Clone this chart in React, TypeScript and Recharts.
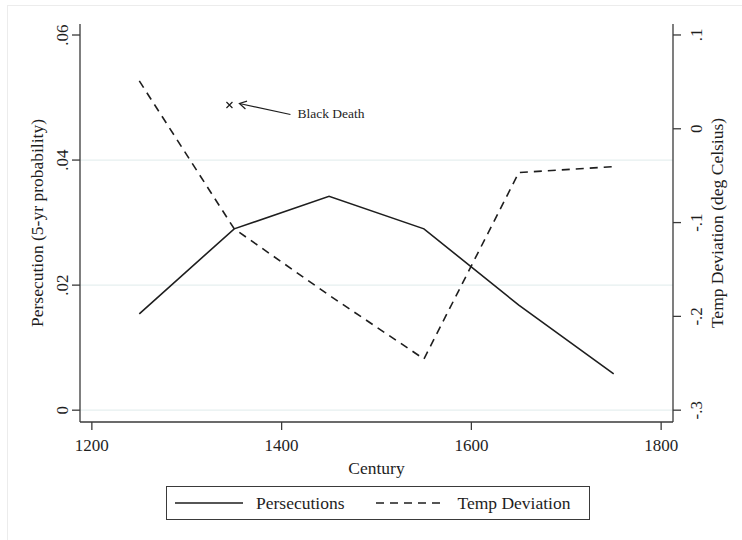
import {
  ComposedChart,
  Line,
  XAxis,
  YAxis,
  ReferenceLine,
  ReferenceDot,
} from "recharts";

// century midpoints and the two series
const centuries = [1250, 1350, 1450, 1550, 1650, 1750];
const persecutions = [0.0154, 0.029, 0.0342, 0.029, 0.0168, 0.0058];
const tempDeviation = [0.051, -0.1066, -0.1774, -0.2454, -0.0467, -0.0403];

const xTicks = [1200, 1400, 1600, 1800];
const leftTicks = [0, 0.02, 0.04, 0.06];
const rightTicks = [-0.3, -0.2, -0.1, 0, 0.1];
const gridLevels = [0, 0.02, 0.04];

const seriesNames = ["Persecutions", "Temp Deviation"];
const blackDeath = { year: 1345, value: 0.0488, label: "Black Death" };

const data = centuries.map((c, i) => ({
  century: c,
  persecutions: persecutions[i],
  temp: tempDeviation[i],
}));

const FONT = "'Liberation Serif', 'DejaVu Serif', serif";
const AXIS = "#3a3a3a";
const INK = "#1e1e1e";

// stata-style numbers: .04, -.2
const fmt = (v: number) => String(v).replace("0.", ".");

const LeftTick = ({ x, y, payload }: any) => {
  const cx = x - 9;
  return (
    <text
      x={cx}
      y={y}
      transform={`rotate(-90 ${cx} ${y})`}
      textAnchor="middle"
      dominantBaseline="central"
      fontFamily={FONT}
      fontSize={17}
      fill={INK}
    >
      {fmt(payload.value)}
    </text>
  );
};

const RightTick = ({ x, y, payload }: any) => {
  const cx = x + 16;
  return (
    <text
      x={cx}
      y={y}
      transform={`rotate(-90 ${cx} ${y})`}
      textAnchor="middle"
      dominantBaseline="central"
      fontFamily={FONT}
      fontSize={17}
      fill={INK}
    >
      {fmt(payload.value)}
    </text>
  );
};

const leftTitle = ({ viewBox }: any) => {
  const cx = viewBox.x + viewBox.width - 43;
  const cy = viewBox.y + viewBox.height / 2;
  return (
    <text
      x={cx}
      y={cy}
      transform={`rotate(-90 ${cx} ${cy})`}
      textAnchor="middle"
      dominantBaseline="central"
      fontFamily={FONT}
      fontSize={17.5}
      fill={INK}
    >
      Persecution (5-yr probability)
    </text>
  );
};

const rightTitle = ({ viewBox }: any) => {
  const cx = viewBox.x + 44;
  const cy = viewBox.y + viewBox.height / 2;
  return (
    <text
      x={cx}
      y={cy}
      transform={`rotate(-90 ${cx} ${cy})`}
      textAnchor="middle"
      dominantBaseline="central"
      fontFamily={FONT}
      fontSize={17.5}
      fill={INK}
    >
      Temp Deviation (deg Celsius)
    </text>
  );
};

const xTitle = ({ viewBox }: any) => (
  <text
    x={viewBox.x + viewBox.width / 2}
    y={viewBox.y + 46}
    textAnchor="middle"
    dominantBaseline="central"
    fontFamily={FONT}
    fontSize={17.5}
    fill={INK}
  >
    Century
  </text>
);

// x marker with an arrow pointing back at it and the caption
const BlackDeathMark = ({ cx, cy }: any) => {
  const tipX = cx + 10;
  const tipY = cy - 1.5;
  return (
    <g stroke={INK} strokeWidth={1.2} fill="none">
      <path d={`M${cx - 3},${cy - 3}L${cx + 3},${cy + 3}M${cx - 3},${cy + 3}L${cx + 3},${cy - 3}`} />
      <line x1={cx + 61} y1={cy + 9.5} x2={tipX} y2={tipY} />
      <path d={`M${tipX + 6},${tipY + 5.4}L${tipX},${tipY}L${tipX + 7.6},${tipY - 2.4}`} />
      <text
        x={cx + 68}
        y={cy + 8}
        stroke="none"
        fill={INK}
        fontFamily={FONT}
        fontSize={13.5}
        dominantBaseline="central"
      >
        {blackDeath.label}
      </text>
    </g>
  );
};

const LegendBox = () => (
  <div
    style={{
      position: "absolute",
      left: 166,
      top: 486,
      width: 424,
      height: 34,
      border: `1.5px solid ${AXIS}`,
      boxSizing: "border-box",
      display: "flex",
      alignItems: "center",
      fontFamily: FONT,
      fontSize: 17.5,
      color: INK,
      background: "#fff",
    }}
  >
    <svg width={68} height={4} style={{ marginLeft: 8 }}>
      <line x1={0} y1={2} x2={68} y2={2} stroke={INK} strokeWidth={1.6} />
    </svg>
    <span style={{ marginLeft: 13 }}>{seriesNames[0]}</span>
    <svg width={70} height={4} style={{ marginLeft: 32 }}>
      <line x1={0} y1={2} x2={70} y2={2} stroke={INK} strokeWidth={1.6} strokeDasharray="8 6" />
    </svg>
    <span style={{ marginLeft: 11 }}>{seriesNames[1]}</span>
  </div>
);

export default function App() {
  return (
    <div
      style={{
        position: "absolute",
        left: 0,
        top: 0,
        width: 742,
        height: 540,
        overflow: "hidden",
        background: "#fff",
      }}
    >
      <div
        style={{
          position: "absolute",
          left: 7,
          top: 5,
          width: 800,
          height: 600,
          border: "1px solid #ececec",
        }}
      />
      <div style={{ position: "absolute", left: 0, top: 0 }}>
        <ComposedChart
          width={742}
          height={540}
          data={data}
          margin={{ top: 24, right: 14, bottom: 78, left: 20 }}
        >
          <XAxis
            dataKey="century"
            type="number"
            domain={[1187.5, 1812.5]}
            ticks={xTicks}
            allowDataOverflow
            height={40}
            tickSize={8}
            tickMargin={9}
            stroke={AXIS}
            strokeWidth={1.3}
            tick={{ fontFamily: FONT, fontSize: 17, fill: INK }}
            label={xTitle}
          />
          <YAxis
            yAxisId="left"
            orientation="left"
            width={60}
            domain={[-0.00189, 0.06176]}
            ticks={leftTicks}
            allowDataOverflow
            tickSize={8}
            tickMargin={0}
            stroke={AXIS}
            strokeWidth={1.3}
            tick={<LeftTick />}
            label={leftTitle}
          />
          <YAxis
            yAxisId="right"
            orientation="right"
            width={55}
            domain={[-0.3126, 0.1117]}
            ticks={rightTicks}
            allowDataOverflow
            tickSize={8}
            tickMargin={0}
            stroke={AXIS}
            strokeWidth={1.3}
            tick={<RightTick />}
            label={rightTitle}
          />
          {gridLevels.map((g) => (
            <ReferenceLine key={g} yAxisId="left" y={g} stroke="#e6efef" strokeWidth={1.2} />
          ))}
          <Line
            yAxisId="left"
            dataKey="persecutions"
            name={seriesNames[0]}
            type="linear"
            stroke={INK}
            strokeWidth={1.6}
            dot={false}
            activeDot={false}
            isAnimationActive={false}
          />
          <Line
            yAxisId="right"
            dataKey="temp"
            name={seriesNames[1]}
            type="linear"
            stroke={INK}
            strokeWidth={1.6}
            strokeDasharray="8 6"
            dot={false}
            activeDot={false}
            isAnimationActive={false}
          />
          <ReferenceDot
            yAxisId="left"
            x={blackDeath.year}
            y={blackDeath.value}
            r={3}
            shape={<BlackDeathMark />}
          />
        </ComposedChart>
      </div>
      <LegendBox />
    </div>
  );
}
